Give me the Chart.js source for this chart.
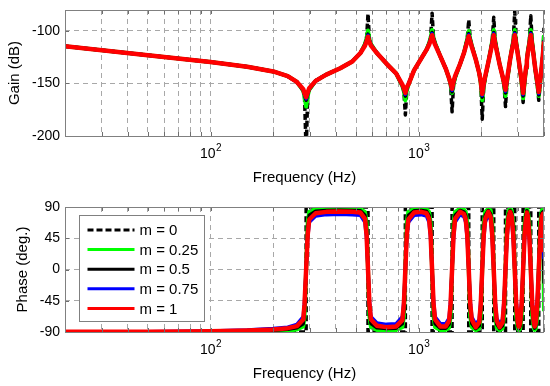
<!DOCTYPE html>
<html>
<head>
<meta charset="utf-8">
<script src="https://cdn.jsdelivr.net/npm/chart.js@4.4.1/dist/chart.umd.min.js"></script>
<style>
  html, body { margin: 0; padding: 0; background: #fff; }
  #wrap { position: relative; width: 550px; height: 386px; }
  #wrap canvas { position: absolute; left: 0; }
</style>
</head>
<body>
<div id="wrap">
  <canvas id="gain" width="550" height="193" style="top:0"></canvas>
  <canvas id="phase" width="550" height="193" style="top:193px"></canvas>
</div>
<script>
// frequency grid (Hz) shared by the damped curves
const freq = [
  20, 50, 100, 150, 200, 235, 260, 279, 283, 288,
  293, 298, 320, 360, 420, 480, 525, 552, 562, 571,
  580, 590, 630, 700, 780, 835, 849, 863, 877, 892,
  950, 1030, 1090, 1122, 1141, 1160, 1179, 1199, 1270, 1350,
  1400, 1423, 1447, 1471, 1496, 1580, 1650, 1683, 1711, 1740,
  1769, 1799, 1880, 1954, 1987, 2020, 2054, 2088, 2160, 2219,
  2256, 2294, 2332, 2372, 2450, 2528, 2570, 2613, 2657, 2701,
  2750, 2799, 2846, 2894, 2942, 2992, 3030, 3071, 3123, 3175,
  3228, 3282, 3310, 3343, 3399, 3456, 3514, 3573, 3610, 3652,
  3713, 3775, 3838, 3903, 3950, 4000
];

// gain (dB)
const gainM0 = [
  -114.5, -123, -129.5, -134, -138.5, -143, -148.5, -157, -163, -215,
  -162, -156, -147.5, -141.5, -135.5, -129, -121, -112.5, -107, -83.7,
  -108, -112.5, -121, -131, -140.5, -152.5, -157.5, -180, -156.5, -151.5,
  -137.5, -126, -118, -111.5, -106.5, -83, -106.5, -111.5, -124, -136,
  -145, -151, -177, -151, -144.5, -131.5, -121, -113.5, -107.5, -89.5,
  -107.5, -113.5, -127, -140, -150, -184, -153, -144.5, -130, -117.5,
  -109.5, -87, -109.5, -117.5, -132, -143, -151, -172, -149, -138.5,
  -127, -117.5, -109.5, -81.5, -110.5, -120.5, -129, -138.5, -150, -168,
  -149, -135.5, -128, -119.5, -110.5, -85.4, -111.5, -123.5, -132, -140.5,
  -151, -166, -149, -134.5, -123, -97
];
const gainM025 = [
  -114.5, -123, -129.5, -134, -138.5, -143, -148.5, -157, -163, -172,
  -162, -156, -147.5, -141.5, -135.5, -129, -121, -112.5, -107, -99.5,
  -108, -112.5, -121, -131, -140.5, -152.5, -157.5, -166, -156.5, -151.5,
  -137.5, -126, -118, -111.5, -106.5, -99, -106.5, -111.5, -124, -136,
  -145, -151, -159, -151, -144.5, -131.5, -121, -113.5, -107.5, -100,
  -107.5, -113.5, -127, -140, -150, -166, -153, -144.5, -130, -117.5,
  -109.5, -99, -109.5, -117.5, -132, -143, -151, -162, -149, -138.5,
  -127, -117.5, -109.5, -99, -110.5, -120.5, -129, -138.5, -150, -164,
  -149, -135.5, -128, -119.5, -110.5, -99, -111.5, -123.5, -132, -140.5,
  -151, -162, -149, -134.5, -123, -104
];
const gainM05 = [
  -114.5, -123, -129.5, -134, -138.5, -143, -148.5, -156.5, -161, -166,
  -160, -155.5, -147.5, -141.5, -135.5, -129, -121, -113, -108.5, -103,
  -109, -113, -121, -131, -140.5, -152, -156, -162, -155, -151,
  -137.5, -126, -118, -112, -107.5, -101.5, -107.5, -112, -124, -136,
  -145, -150.5, -158, -149.5, -144, -131.5, -121, -114, -108.5, -102.5,
  -108.5, -114, -127, -140, -149, -163, -151.5, -144, -130, -118,
  -110.5, -101.5, -110.5, -118, -132, -143, -150, -159, -147.5, -138,
  -127, -118, -110.5, -101.5, -111.5, -121, -129, -138, -148.5, -162,
  -147.5, -135, -128, -120, -111.5, -101.5, -112.5, -124, -132, -140,
  -149.5, -161, -147.5, -134, -123, -109
];
const gainM075 = [
  -114.5, -123, -129.5, -134, -138.5, -143, -148.5, -156, -160.5, -164.5,
  -159.5, -155, -147.5, -141.5, -135.5, -129, -121, -113.5, -109, -104,
  -109.5, -113.5, -121, -131, -140.5, -151.5, -155.5, -160.5, -154.5, -150.5,
  -137.5, -126, -118, -112.5, -108, -102.5, -108, -112.5, -124, -136,
  -145, -150, -156.5, -149, -143.5, -131.5, -121, -114.5, -109, -103.5,
  -109, -114.5, -127, -140, -148.5, -161.5, -151, -143.5, -130, -118.5,
  -111, -102.5, -111, -118.5, -132, -143, -149.5, -157.5, -147, -137.5,
  -127, -118.5, -111, -102.5, -112, -121.5, -129, -137.5, -148, -160.5,
  -147, -134.5, -128, -120.5, -112, -102.5, -113, -124.5, -132, -139.5,
  -149, -159.5, -147, -133.5, -123, -109.5
];
const gainM1 = [
  -114.5, -123, -129.5, -134, -138.5, -143, -148.5, -155.5, -159.5, -163,
  -158.5, -154.5, -147.5, -141.5, -135.5, -129, -121, -114, -110, -105.5,
  -110.5, -114, -121, -131, -140.5, -151, -154.5, -159, -153.5, -151,
  -137.5, -126, -118, -113, -109, -104, -109, -113, -124, -136,
  -145, -149.5, -155, -148, -143, -131.5, -121, -115, -110, -105,
  -110, -115, -127, -140, -148, -160, -150, -143, -130, -119,
  -112, -104, -112, -119, -132, -143, -149, -156, -146, -137,
  -127, -119, -112, -104, -113, -122, -129, -137, -147, -159,
  -146, -134, -128, -121, -113, -104, -114, -125, -132, -139,
  -148, -158, -146, -133, -123, -110
];

// phase (deg.)
const phaseM025 = [
  -90, -90, -90, -89.5, -89, -88, -86.5, -82, -68, 0,
  68, 83, 87, 87.5, 88, 87.5, 87, 83, 68, 0,
  -68, -83, -87, -87.5, -87, -83, -68, 0, 68, 83,
  87, 87.5, 87, 83, 68, 0, -68, -83, -87, -87,
  -84, -68, 0, 68, 83, 87.5, 86.5, 83, 68, 0,
  -68, -83, -87.5, -85, -68, 0, 68, 83, 87.5, 85,
  68, 0, -68, -84, -87.5, -85, -68, 0, 68, 84,
  87.5, 85, 68, 0, -68, -84, -87.5, -85, -68, 0,
  68, 84, 87, 85, 68, 0, -68, -84, -87, -85,
  -68, 0, 68, 85, 86, -60
];
const phaseM05 = [
  -90, -90, -89.5, -88.5, -87.5, -86, -84, -78, -58, 0,
  58, 78, 84, 85, 85.5, 85, 84.5, 78, 58, 0,
  -58, -78, -84, -85, -84.5, -78, -58, 0, 58, 78,
  84.5, 85, 84, 78, 58, 0, -58, -78, -84.5, -84.5,
  -79, -58, 0, 58, 78, 85, 83, 78, 58, 0,
  -58, -78, -85, -81, -58, 0, 58, 78, 85, 80,
  58, 0, -58, -79, -85, -81, -58, 0, 58, 79,
  85, 81, 58, 0, -58, -80, -85, -81, -58, 0,
  58, 80, 84.5, 81, 58, 0, -58, -80, -84.5, -81,
  -58, 0, 58, 81, 83, -20
];
const phaseM075 = [
  -89.5, -89.5, -88.5, -87, -85, -83, -79, -68, -45, 0,
  45, 68, 77, 79, 79.5, 79, 78, 68, 45, 0,
  -45, -68, -77, -79, -78, -68, -45, 0, 45, 68,
  78, 79, 77, 68, 45, 0, -45, -68, -78, -78,
  -70, -45, 0, 45, 68, 79, 76, 68, 45, 0,
  -45, -68, -79, -72, -45, 0, 45, 68, 79, 71,
  45, 0, -45, -70, -79, -72, -45, 0, 45, 70,
  79, 72, 45, 0, -45, -71, -79, -73, -45, 0,
  45, 71, 78, 73, 45, 0, -45, -71, -78, -73,
  -45, 0, 45, 72, 76, 15
];
const phaseM1 = [
  -89.5, -89.5, -89, -88, -86.5, -84.5, -81.5, -72, -50, 0,
  50, 72, 81, 83, 83.5, 83, 82, 73, 50, 0,
  -50, -72, -81, -83, -82, -73, -50, 0, 50, 72,
  82, 83, 81, 73, 50, 0, -50, -72, -82, -82,
  -74, -50, 0, 50, 73, 83, 80, 72, 50, 0,
  -50, -72, -83, -76, -50, 0, 50, 73, 83, 75,
  50, 0, -50, -74, -83, -76, -50, 0, 50, 74,
  83, 76, 50, 0, -50, -75, -83, -77, -50, 0,
  50, 75, 82, 77, 50, 0, -50, -75, -82, -77,
  -50, 0, 50, 76, 80, 25
];
// undamped case: phase jumps at these frequencies
const edgeFreqM0 = [20, 288, 571, 863, 1160, 1447, 1740, 2020, 2294, 2613, 2894, 3175, 3456, 3775, 4000];
const phaseM0 = [-90, 90, -90, 90, -90, 90, -90, 90, -90, 90, -90, 90, -90, 90, 90];

const xTicks = [20, 30, 40, 50, 60, 70, 80, 90, 100, 200, 300, 400, 500, 600, 700, 800, 900, 1000, 2000, 3000, 4000];
const xDecades = [100, 1000];
const gainTicks = [-200, -150, -100];
const phaseTicks = [-90, -45, 0, 45, 90];
const seriesLabels = ['m = 0', 'm = 0.25', 'm = 0.5', 'm = 0.75', 'm = 1'];
const seriesColors = ['#000000', '#00ff00', '#000000', '#0000ff', '#ff0000'];
const seriesWidths = [3.5, 4, 3.5, 3.5, 4.5];

const family = '"Liberation Sans", Arial, Helvetica, sans-serif';
Chart.defaults.font.family = family;
Chart.defaults.color = '#000';

const pts = (xs, ys) => xs.map((x, i) => ({ x: x, y: ys[i] }));

function buildSets(series, m0x, stepped) {
  return series.map((ys, i) => ({
    label: seriesLabels[i],
    data: pts(i === 0 ? m0x : freq, ys),
    borderColor: seriesColors[i],
    borderWidth: seriesWidths[i],
    borderDash: i === 0 ? [6, 3] : [],
    borderJoinStyle: 'round',
    stepped: i === 0 && stepped ? 'before' : false,
    order: 5 - i,
    pointRadius: 0,
    fill: false
  }));
}

// box, inner ticks and 10^n labels, MATLAB style
const framePlugin = {
  id: 'frame',
  afterDraw(chart) {
    const { ctx, chartArea: a, scales: { x, y } } = chart;
    ctx.save();
    ctx.strokeStyle = '#6e6e6e';
    ctx.lineWidth = 1;
    ctx.beginPath();
    xTicks.forEach(v => {
      const px = Math.round(x.getPixelForValue(v)) + 0.5;
      ctx.moveTo(px, a.bottom); ctx.lineTo(px, a.bottom - 4);
      ctx.moveTo(px, a.top); ctx.lineTo(px, a.top + 4);
    });
    y.ticks.forEach(t => {
      const py = Math.round(y.getPixelForValue(t.value)) + 0.5;
      ctx.moveTo(a.left, py); ctx.lineTo(a.left + 4, py);
      ctx.moveTo(a.right, py); ctx.lineTo(a.right - 4, py);
    });
    ctx.stroke();
    ctx.strokeStyle = '#808080';
    ctx.strokeRect(Math.round(a.left) + 0.5, Math.round(a.top) + 0.5,
      Math.round(a.right - a.left) - 1, Math.round(a.bottom - a.top));

    ctx.fillStyle = '#000';
    ctx.textAlign = 'left';
    ctx.textBaseline = 'alphabetic';
    xDecades.forEach(v => {
      const px = x.getPixelForValue(v);
      const exp = String(Math.round(Math.log10(v)));
      ctx.font = '14px ' + family;
      const w1 = ctx.measureText('10').width;
      ctx.font = '10px ' + family;
      const w2 = ctx.measureText(exp).width;
      const left = px - (w1 + w2) / 2;
      const base = a.bottom + 22;
      ctx.font = '14px ' + family;
      ctx.fillText('10', left, base);
      ctx.font = '10px ' + family;
      ctx.fillText(exp, left + w1 + 0.5, base - 7);
    });
    ctx.restore();
  }
};

const boxLegend = {
  id: 'boxLegend',
  afterDraw(chart) {
    const { ctx, chartArea: a } = chart;
    const bx = Math.round(a.left + 14) + 0.5, by = Math.round(a.top + 8) + 0.5;
    const bw = 125, bh = 106;
    ctx.save();
    ctx.fillStyle = '#fff';
    ctx.fillRect(bx, by, bw, bh);
    ctx.strokeStyle = '#808080';
    ctx.lineWidth = 1;
    ctx.strokeRect(bx, by, bw, bh);
    ctx.font = '15px ' + family;
    ctx.textAlign = 'left';
    ctx.textBaseline = 'middle';
    chart.data.datasets.forEach((ds, i) => {
      const yy = by + 14.5 + i * 19.6;
      ctx.beginPath();
      ctx.setLineDash(ds.borderDash || []);
      ctx.strokeStyle = ds.borderColor;
      ctx.lineWidth = 3;
      ctx.moveTo(bx + 8, yy);
      ctx.lineTo(bx + 55, yy);
      ctx.stroke();
      ctx.setLineDash([]);
      ctx.fillStyle = '#000';
      ctx.fillText(ds.label, bx + 60, yy + 1);
    });
    ctx.restore();
  }
};

function makeChart(id, datasets, yMin, yMax, yTicks, yTitle, o) {
  const grid = { color: '#a8a8a8', lineWidth: 1, drawTicks: false };
  const border = { display: false, dash: [5, 4] };
  return new Chart(document.getElementById(id), {
    type: 'line',
    data: { datasets: datasets },
    options: {
      responsive: false,
      animation: false,
      devicePixelRatio: 1,
      layout: { padding: { top: o.top, right: 6, left: 0, bottom: 0 } },
      plugins: { legend: { display: false }, tooltip: { enabled: false } },
      scales: {
        x: {
          type: 'logarithmic', min: 20, max: 4000,
          afterBuildTicks: s => { s.ticks = xTicks.map(v => ({ value: v })); },
          afterFit: s => { s.height = o.xh; s.paddingLeft = 0; s.paddingRight = 0; },
          ticks: { callback: () => '', autoSkip: false, maxRotation: 0 },
          grid: grid,
          border: border,
          title: { display: true, text: 'Frequency (Hz)', font: { size: 15 }, color: '#000',
            padding: { top: 0, bottom: o.xtp } }
        },
        y: {
          type: 'linear', min: yMin, max: yMax,
          afterBuildTicks: s => { s.ticks = yTicks.map(v => ({ value: v })); },
          afterFit: s => { s.width = 65; s.paddingTop = 0; s.paddingBottom = 0; },
          ticks: { font: { size: 14 }, padding: 5, color: '#000' },
          grid: grid,
          border: border,
          title: { display: true, text: yTitle, font: { size: 15 }, color: '#000',
            padding: { top: o.ytp, bottom: 0 } }
        }
      }
    },
    plugins: [framePlugin].concat(o.extra || [])
  });
}

makeChart('gain',
  buildSets([gainM0, gainM025, gainM05, gainM075, gainM1], freq, false),
  -200, -80, gainTicks, 'Gain (dB)',
  { top: 10, xh: 57, xtp: 6.5, ytp: 6 });

makeChart('phase',
  buildSets([phaseM0, phaseM025, phaseM05, phaseM075, phaseM1], edgeFreqM0, true),
  -90, 90, phaseTicks, 'Phase (deg.)',
  { top: 14, xh: 54, xtp: 3.5, ytp: 14, extra: [boxLegend] });
</script>
</body>
</html>
